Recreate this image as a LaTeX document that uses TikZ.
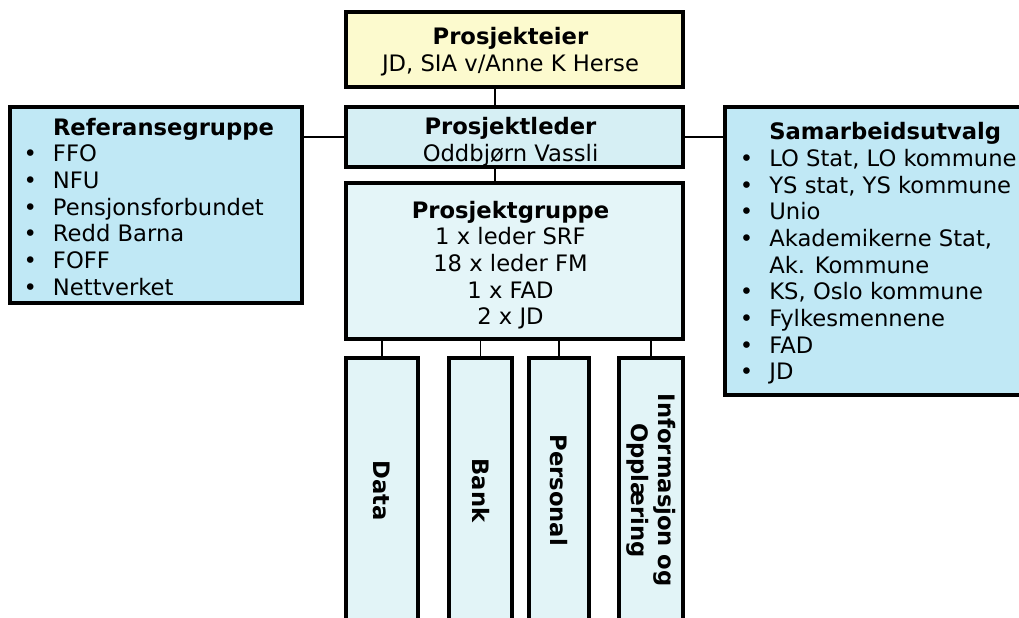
\documentclass[tikz,border=0pt]{standalone}
\usepackage{fontspec}
\setmainfont{DejaVu Sans}
\usetikzlibrary{fit}

\definecolor{eierfill}{RGB}{252,250,206}
\definecolor{lederfill}{RGB}{214,239,244}
\definecolor{sidefill}{RGB}{192,232,245}
\definecolor{gruppefill}{RGB}{228,245,248}
\definecolor{teamfill}{RGB}{226,244,247}

\newcommand{\orgfont}{\fontsize{17pt}{20pt}\selectfont}

\tikzset{every picture/.style={line width=0.75pt}}
\tikzset{
  orgbox/.style={draw, line width=2.3pt, inner sep=0pt},
  boxtext/.style={align=center, inner sep=0pt, font=\orgfont},
  link/.style={line width=1.4pt},
  listtext/.style={anchor=west, inner sep=0pt, font=\orgfont},
  teamlabel/.style={rotate=-90, align=center, inner sep=0pt, font=\orgfont\bfseries}
}

\begin{document}
\begin{tikzpicture}[x=0.75pt,y=0.75pt,yscale=-1,xscale=1]
\useasboundingbox (0,0) rectangle (1019,617);
\clip (0,0) rectangle (1019,617);

%Boxes in the middle column
\node [orgbox, fill=eierfill, fit={(346,12) (683,87)}] (eier) {};
\node [orgbox, fill=lederfill, fit={(346,107) (683,167)}] (leder) {};
\node [orgbox, fill=gruppefill, fit={(346,183) (683,339)}] (gruppe) {};

% Text Node
\node [boxtext] (eiertxt) at ([xshift=-3pt,yshift=1.5pt]eier.center) {\textbf{Prosjekteier}\\JD, SIA v/Anne K Herse};
% Text Node
\node [boxtext] (ledertxt) at ([xshift=-3pt,yshift=3.5pt]leder.center) {\textbf{Prosjektleder}\\Oddbjørn Vassli};
% Text Node
\node [boxtext] (gruppetxt) at ([xshift=-3pt,yshift=3pt]gruppe.center) {\textbf{Prosjektgruppe}\\1 x leder SRF\\18 x leder FM\\1 x FAD\\2 x JD};

%Side boxes
\node [orgbox, fill=sidefill, fit={(10,107) (302,303)}] (ref) {};
\node [orgbox, fill=sidefill, fit={(725,107) (1030,395)}] (samarb) {};

% Text Node
\node [listtext] (reftxt) at ([xshift=11pt,yshift=3.5pt]ref.west) {%
  \begin{tabular}{@{}l@{\hspace{12pt}}l@{}}
   & \textbf{Referansegruppe}\\
  • & FFO\\
  • & NFU\\
  • & Pensjonsforbundet\\
  • & Redd Barna\\
  • & FOFF\\
  • & Nettverket
  \end{tabular}};
% Text Node
\node [listtext] (samarbtxt) at ([xshift=12pt,yshift=2.5pt]samarb.west) {%
  \begin{tabular}{@{}l@{\hspace{12pt}}l@{}}
   & \textbf{Samarbeidsutvalg}\\
  • & LO Stat, LO kommune\\
  • & YS stat, YS kommune\\
  • & Unio\\
  • & Akademikerne Stat,\\
   & Ak. Kommune\\
  • & KS, Oslo kommune\\
  • & Fylkesmennene\\
  • & FAD\\
  • & JD
  \end{tabular}};

%Team boxes
\node [orgbox, fill=teamfill, fit={(346,358) (418,620)}] (data) {};
\node [orgbox, fill=teamfill, fit={(449,358) (512,620)}] (bank) {};
\node [orgbox, fill=teamfill, fit={(529,358) (589,620)}] (personal) {};
\node [orgbox, fill=teamfill, fit={(619,358) (683,620)}] (info) {};

% Text Node
\node [teamlabel] (datatxt) at ([yshift=1pt]data.center) {Data};
% Text Node
\node [teamlabel] (banktxt) at ([yshift=1pt]bank.center) {Bank};
% Text Node
\node [teamlabel] (personaltxt) at ([yshift=1pt]personal.center) {Personal};
% Text Node
\node [teamlabel] (infotxt) at ([yshift=1pt]info.center) {Informasjon og\\Opplæring};

%Connectors
\draw [link] ([xshift=-14.6pt]eier.south) -- ([xshift=-14.6pt]leder.north);
\draw [link] ([xshift=-14.6pt]leder.south) -- ([xshift=-14.6pt]gruppe.north);
\draw [link] (leder.west) -- (leder.west -| ref.east);
\draw [link] (leder.east) -- (leder.east -| samarb.west);
\draw [link] (gruppe.south -| data.north) -- (data.north);
\draw [link] (gruppe.south -| bank.north) -- (bank.north);
\draw [link] (gruppe.south -| personal.north) -- (personal.north);
\draw [link] (gruppe.south -| info.north) -- (info.north);

\end{tikzpicture}
\end{document}
